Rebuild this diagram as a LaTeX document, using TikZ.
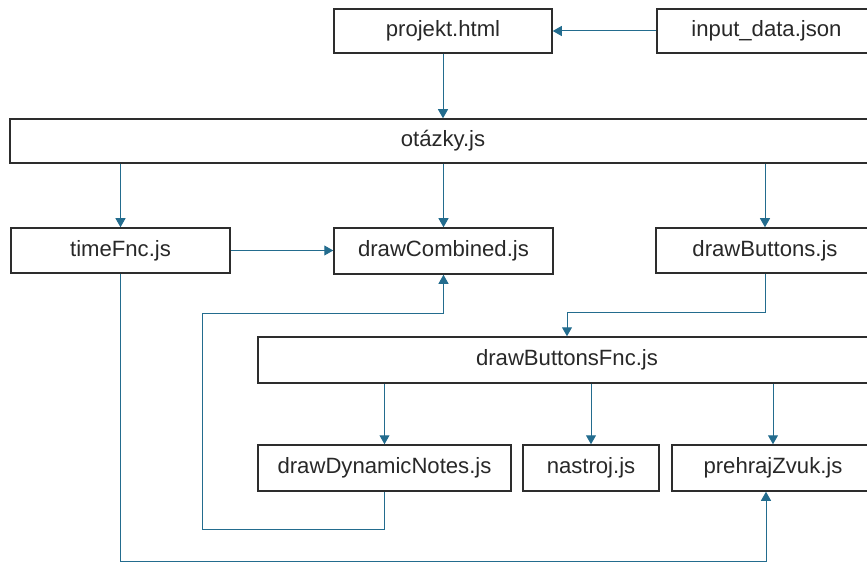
\documentclass[tikz,border=0pt]{standalone}
\usepackage{fontspec}
\setmainfont{Liberation Sans}
\usetikzlibrary{arrows.meta}
\definecolor{conn}{RGB}{35,108,142}
\definecolor{boxline}{RGB}{45,45,45}
\definecolor{txt}{RGB}{40,40,40}
\tikzset{
  box/.style={draw=boxline, line width=1.5bp, fill=white, inner sep=0pt,
    text=txt, font=\fontsize{22.2}{26}\selectfont},
  conn/.style={draw=conn, line width=1bp, -{Triangle[width=10bp,length=9bp]}},
  plain/.style={draw=conn, line width=1bp}
}
\begin{document}
\begin{tikzpicture}[x=1bp, y=-1bp]
\useasboundingbox (0,0) rectangle (867,563);
\clip (0,0) rectangle (867,563);
\node[box, minimum width=218bp, minimum height=44bp] (proj) at (443,31) {projekt.html};
\node[box, minimum width=219bp, minimum height=44bp] (inp) at (766.5,31) {input\_data.json};
\node[box, minimum width=866bp, minimum height=44bp] (otazky) at (443,141) {otázky.js};
\node[box, minimum width=219bp, minimum height=45bp] (time) at (120.5,250.5) {timeFnc.js};
\node[box, minimum width=219bp, minimum height=46bp] (comb) at (443.5,251) {drawCombined.js};
\node[box, minimum width=218bp, minimum height=45bp] (btn) at (765,250.5) {drawButtons.js};
\node[box, minimum width=618bp, minimum height=46bp] (fnc) at (567,360) {drawButtonsFnc.js};
\node[box, minimum width=253bp, minimum height=46bp] (dyn) at (384.5,468) {drawDynamicNotes.js};
\node[box, minimum width=136bp, minimum height=46bp] (nas) at (591,468) {nastroj.js};
\node[box, minimum width=202bp, minimum height=46bp] (zvuk) at (773,468) {prehrajZvuk.js};

\coordinate (b1) at (765,312);
\coordinate (d1) at (384.5,529);
\coordinate (d2) at (202,529);
\coordinate (d3) at (202,313);
\coordinate (d4) at (443.5,313);
\coordinate (t1) at (120.5,561);
\coordinate (t2) at (766,561);

\draw[conn] (inp.west) -- (proj.east);
\draw[conn] (proj.south) -- (otazky.north -| proj.south);
\draw[conn] (otazky.south -| time.north) -- (time.north);
\draw[conn] (otazky.south -| comb.north) -- (comb.north);
\draw[conn] (otazky.south -| btn.north) -- (btn.north);
\draw[conn] (time.east) -- (comb.west |- time.east);
\draw[conn] (btn.south) -- (b1) -| (fnc.north);
\draw[conn] (fnc.south -| dyn.north) -- (dyn.north);
\draw[conn] (fnc.south -| nas.north) -- (nas.north);
\draw[conn] (fnc.south -| zvuk.north) -- (zvuk.north);
\draw[conn] (dyn.south) -- (d1) -- (d2) -- (d3) -- (d4) -- (comb.south);
\draw[conn] (time.south) -- (t1) -- (t2) -- (t2 |- zvuk.south);
\end{tikzpicture}
\end{document}
